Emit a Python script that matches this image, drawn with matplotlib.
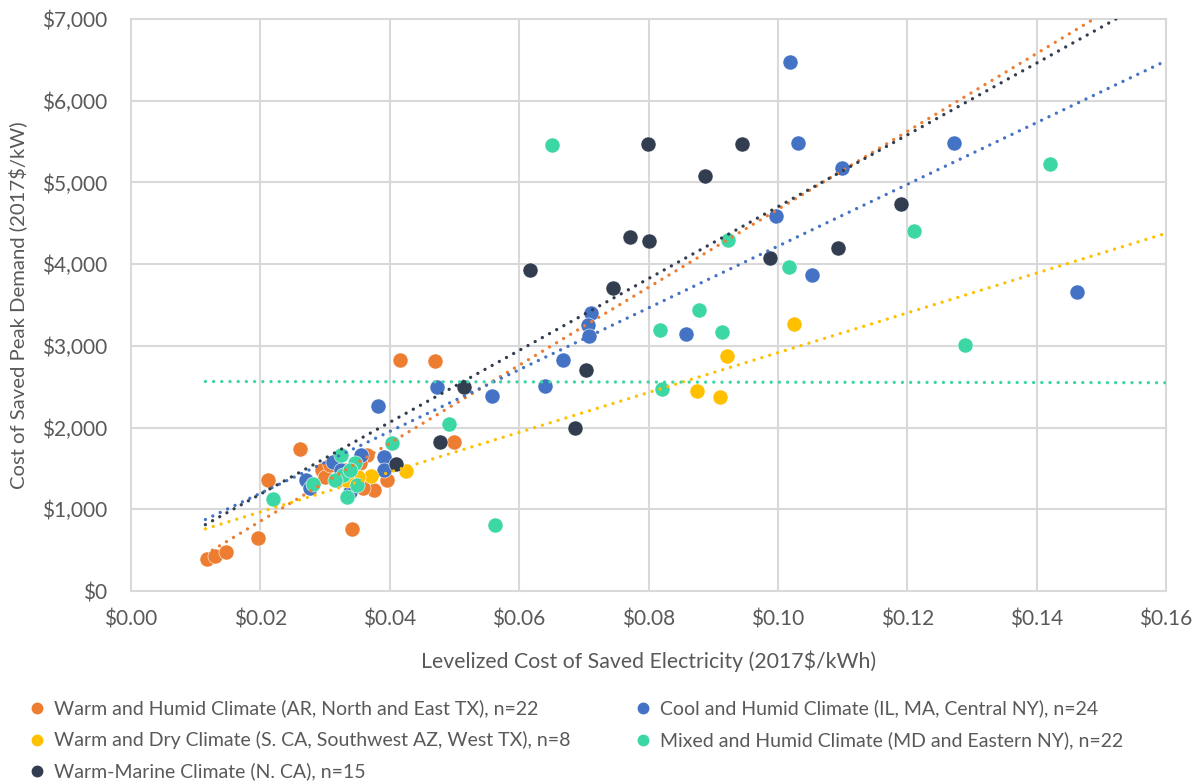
import matplotlib
matplotlib.use("Agg")
import matplotlib.pyplot as plt
from matplotlib.lines import Line2D
import numpy as np

plt.rcParams['font.family'] = ['Lato', 'DejaVu Sans']

# ---- data ----
warm_humid_x = [0.0118, 0.0130, 0.0147, 0.0197, 0.0212, 0.0262, 0.0342, 0.0416, 0.0470, 0.0500,
                0.0296, 0.0300, 0.0365, 0.0354, 0.0375, 0.0396, 0.0359, 0.0308, 0.0331, 0.0339,
                0.0320, 0.0347]
warm_humid_y = [392, 428, 477, 649, 1359, 1738, 759, 2827, 2815, 1824,
                1481, 1395, 1665, 1567, 1236, 1359, 1261, 1542, 1481, 1297,
                1359, 1420]

cool_humid_x = [0.1018, 0.1031, 0.1273, 0.1099, 0.0997, 0.1052, 0.1463, 0.0858, 0.0711, 0.0706,
                0.0708, 0.0668, 0.0640, 0.0558, 0.0473, 0.0382, 0.0391, 0.0391, 0.0270, 0.0277,
                0.0313, 0.0356, 0.0339, 0.0324]
cool_humid_y = [6475, 5484, 5484, 5177, 4590, 3868, 3660, 3146, 3403, 3256,
                3121, 2827, 2509, 2387, 2497, 2264, 1640, 1481, 1359, 1261,
                1579, 1665, 1212, 1481]

warm_dry_x = [0.1025, 0.0921, 0.0875, 0.0910, 0.0425, 0.0371, 0.0351, 0.0334]
warm_dry_y = [3268, 2876, 2448, 2375, 1469, 1408, 1395, 1359]

mixed_humid_x = [0.1420, 0.0651, 0.1211, 0.1017, 0.0923, 0.0878, 0.0818, 0.0914, 0.1289, 0.0821,
                 0.0563, 0.0492, 0.0404, 0.0219, 0.0282, 0.0324, 0.0347, 0.0327, 0.0350, 0.0334,
                 0.0316, 0.0339]
mixed_humid_y = [5226, 5459, 4406, 3966, 4296, 3439, 3195, 3170, 3011, 2472,
                 808, 2044, 1811, 1126, 1310, 1665, 1567, 1420, 1297, 1151,
                 1359, 1481]

warm_marine_x = [0.0617, 0.0799, 0.0944, 0.0888, 0.0771, 0.0800, 0.0745, 0.0703, 0.0686, 0.0988,
                 0.1093, 0.1191, 0.0515, 0.0478, 0.0410]
warm_marine_y = [3929, 5471, 5471, 5080, 4333, 4284, 3705, 2705, 1991, 4076,
                 4198, 4737, 2501, 1824, 1554]

# linear trendline coefficients (slope, intercept)
trend_slope = [47700, 37800, 24360, -100, 43960]
trend_intercept = [-100, 440, 480, 2565, 306]
trend_x_range = [0.0115, 0.16]

series_labels = [
    "Warm and Humid Climate (AR, North and East TX), n=22",
    "Cool and Humid Climate (IL, MA, Central NY), n=24",
    "Warm and Dry Climate (S. CA, Southwest AZ, West TX), n=8",
    "Mixed and Humid Climate (MD and Eastern NY), n=22",
    "Warm-Marine Climate (N. CA), n=15",
]
colors = ["#ED7D31", "#4472C4", "#FFC000", "#3DD6A5", "#323E50"]

xticks = [0.00, 0.02, 0.04, 0.06, 0.08, 0.10, 0.12, 0.14, 0.16]
yticks = [0, 1000, 2000, 3000, 4000, 5000, 6000, 7000]

xs = [warm_humid_x, cool_humid_x, warm_dry_x, mixed_humid_x, warm_marine_x]
ys = [warm_humid_y, cool_humid_y, warm_dry_y, mixed_humid_y, warm_marine_y]

# ---- figure ----
W, H = 1199, 782
fig = plt.figure(figsize=(W / 100, H / 100), dpi=100)
ax = fig.add_axes([131 / W, 1 - 591 / H, (1166 - 131) / W, (591 - 19) / H])

for x, y, c in zip(xs, ys, colors):
    ax.scatter(x, y, s=118, color=c, edgecolors='white', linewidths=0.4, zorder=3)

tx = np.array(trend_x_range)
for m, b, c in zip(trend_slope, trend_intercept, colors):
    ax.plot(tx, m * tx + b, color=c, lw=2.4, linestyle=(0, (0.01, 2.45)),
            dash_capstyle='round', zorder=4)

ax.set_xlim(0, 0.16)
ax.set_ylim(0, 7000)
ax.set_xticks(xticks)
ax.set_yticks(yticks)
ax.set_xticklabels([f"${v:.2f}" for v in xticks])
ax.set_yticklabels([f"${v:,.0f}" for v in yticks])
ax.grid(True, color="#D9D9D9", lw=1.5, zorder=0)
ax.set_axisbelow(True)
for s in ax.spines.values():
    s.set_visible(False)
ax.tick_params(axis='both', length=0, labelsize=15, colors="#595959")
ax.tick_params(axis='x', pad=13)
ax.tick_params(axis='y', pad=17)
for gl in ax.get_xgridlines() + ax.get_ygridlines():
    gl.set_clip_on(False)

fig.text(648.5 / W, 1 - 661 / H, "Levelized Cost of Saved Electricity (2017$/kWh)",
         fontsize=15.3, color="#595959", ha='center', va='center')
fig.text(18 / W, 1 - 305 / H, "Cost of Saved Peak Demand (2017$/kW)",
         fontsize=14.6, color="#595959", ha='center', va='center', rotation=90)

# ---- legend (Excel-style, row-wise) ----
leg_pos = [(37, 708), (643, 708), (37, 740), (643, 740), (37, 771)]
for (px, py), lab, c in zip(leg_pos, series_labels, colors):
    fig.add_artist(Line2D([px / W], [1 - py / H], marker='o', markersize=7.5, color=c,
                          linestyle='none', transform=fig.transFigure))
    fig.text((px + 17) / W, 1 - py / H, lab, fontsize=14, color="#595959",
             va='center', ha='left')

fig.savefig("out.png", dpi=100)
